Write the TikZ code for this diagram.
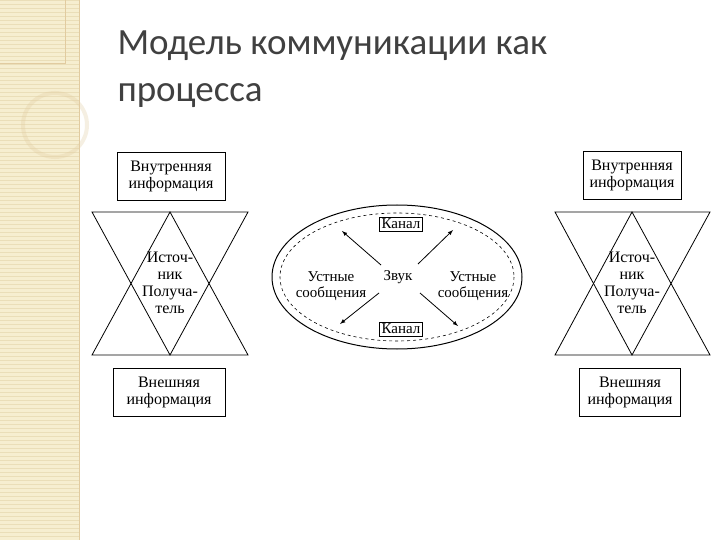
\documentclass[tikz,border=0pt]{standalone}
\usepackage{fontspec}
\setmainfont{Liberation Serif}
\newfontfamily\titlefont{Carlito}
\definecolor{strip}{RGB}{246,238,208}
\definecolor{stripline}{RGB}{234,222,184}
\definecolor{titlec}{RGB}{64,64,64}
\tikzset{box/.style={draw,line width=0.9pt,minimum width=#1,minimum height=48pt,align=center,inner sep=1pt,font=\fontsize{16}{17}\selectfont},
lbl/.style={align=center,font=\fontsize{16}{17}\selectfont,inner sep=1pt},
clbl/.style={align=center,font=\fontsize{15}{16}\selectfont,inner sep=1pt},
tri/.style={line width=0.8pt},
arr/.style={-latex,line width=0.8pt}}
\begin{document}
\begin{tikzpicture}[x=1pt,y=-1pt]
\useasboundingbox (0,0) rectangle (720,540);
\fill[white] (0,0) rectangle (720,540);
\fill[strip] (0,0) rectangle (79,540);
\foreach \y in {0,4,...,540} \draw[stripline,line width=0.4pt] (0,\y) -- (79,\y);
\draw[stripline!80!brown,line width=0.5pt] (0,63) -- (65,63) -- (65,0);
\draw[stripline!80!brown,line width=4pt,opacity=0.3] (55,125) circle (32);
\draw[stripline!80!brown,line width=0.6pt] (79,0) -- (79,540);
\node[anchor=west,text=titlec,font=\titlefont\fontsize{37}{47}\selectfont,align=left] (title) at (114,69) {Модель коммуникации как\\процесса};
% left
\node[box=108pt] (lti) at (171,176) {Внутренняя\\информация};
\draw[tri] (92,212) -- (248,212) -- (170,355) -- cycle;
\draw[tri] (92,355) -- (248,355) -- (170,212) -- cycle;
\node[lbl] (lsr) at (170,283) {Источ-\\ник\\Получа-\\тель};
\node[box=112pt] (lte) at (169,392) {Внешняя\\информация};
% right
\node[box=98pt] (rti) at (632,175) {Внутренняя\\информация};
\draw[tri] (555,212) -- (710,212) -- (632,355) -- cycle;
\draw[tri] (555,355) -- (710,355) -- (632,212) -- cycle;
\node[lbl] (rsr) at (632,283) {Источ-\\ник\\Получа-\\тель};
\node[box=101pt] (rte) at (630,392) {Внешняя\\информация};
% center
\draw[line width=1pt] (397,277) ellipse (125 and 72);
\draw[dashed,line width=0.6pt] (397,277) ellipse (117 and 64);
\node[draw,line width=0.8pt,clbl,inner sep=2pt] (k1) at (401,224) {Канал};
\node[draw,line width=0.8pt,clbl,inner sep=2pt] (k2) at (401,329) {Канал};
\node[clbl] (zv) at (398,277) {Звук};
\node[clbl] (ul) at (331,286) {Устные\\сообщения};
\node[clbl] (ur) at (473,286) {Устные\\сообщения};
\coordinate (a1) at (342,231);
\coordinate (a2) at (453,230);
\coordinate (a3) at (340,324);
\coordinate (a4) at (458,326);
\draw[arr] (381,265) -- (a1);
\draw[arr] (418,264) -- (a2);
\draw[arr] (379,293) -- (a3);
\draw[arr] (420,293) -- (a4);
\end{tikzpicture}
\end{document}
